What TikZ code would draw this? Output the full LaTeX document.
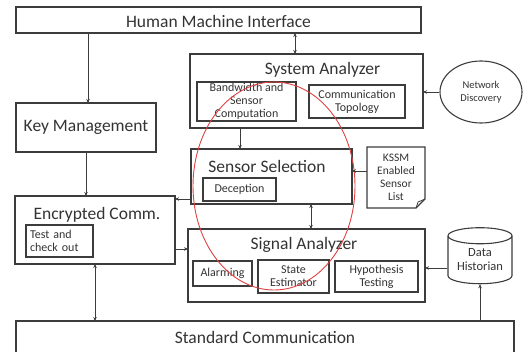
\documentclass[tikz,border=0pt]{standalone}
\usepackage{fontspec}
\setmainfont{Carlito}
\usetikzlibrary{shapes.geometric,arrows.meta,calc}
\definecolor{ln}{HTML}{3C3C3C}
\definecolor{tx}{HTML}{333333}
\definecolor{rd}{HTML}{E04040}
\tikzset{
  box/.style={draw=ln,line width=1.3pt,inner sep=0pt,outer sep=0pt},
  sbox/.style={draw=ln,line width=1.1pt,inner sep=0pt,outer sep=0pt,text=tx,font=\fontsize{12}{13}\selectfont,align=center},
  title/.style={text=tx,font=\fontsize{17.5}{19}\selectfont,inner sep=0pt},
  arr/.style={draw=ln,line width=0.9pt,-{Stealth[length=4pt,width=3.5pt]}},
  darr/.style={draw=ln,line width=0.9pt,{Stealth[length=4pt,width=3.5pt]}-{Stealth[length=4pt,width=3.5pt]}}
}
\begin{document}
\begin{tikzpicture}[x=1pt,y=-1pt]
\useasboundingbox (0,0) rectangle (527,351);
% main boxes
\node[box,minimum width=405pt,minimum height=26pt] (hmi) at (218.5,20) {};
\node[title] (hmit) at (218.5,21) {Human Machine Interface};
\node[box,minimum width=140pt,minimum height=49pt] (key) at (86,127.5) {};
\node[title] (keyt) at (86,127) {Key Management};
\node[box,minimum width=160pt,minimum height=68pt] (enc) at (95,230) {};
\node[title] (enct) at (97,215) {Encrypted Comm.};
\node[sbox,minimum width=67pt,minimum height=32pt,align=left,text width=59pt] (test) at (59.5,241) {Test and\\check out};
\node[box,minimum width=233pt,minimum height=74pt] (sys) at (306.5,91) {};
\node[title] (syst) at (322.5,70) {System Analyzer};
\node[sbox,minimum width=99pt,minimum height=39pt] (bw) at (246.5,101.5) {Bandwidth and\\Sensor\\Computation};
\node[sbox,minimum width=96pt,minimum height=33pt] (ct) at (357,101.5) {Communication\\Topology};
\node[box,minimum width=161pt,minimum height=55pt] (sel) at (271.5,176.5) {};
\node[title] (selt) at (267,166) {Sensor Selection};
\node[sbox,minimum width=73pt,minimum height=23pt] (dec) at (239.5,189.5) {Deception};
\node[inner sep=0pt,outer sep=0pt,minimum width=58pt,minimum height=61pt,text=tx,font=\fontsize{11.5}{13}\selectfont,align=center] (kssm) at (396,177.5) {KSSM\\Enabled\\Sensor\\List};
\draw[ln,line width=1.1pt] (kssm.north west) -- (kssm.north east) -- ([yshift=9pt]kssm.south east) -- ([xshift=-9pt]kssm.south east) -- (kssm.south west) -- cycle;
\draw[ln,line width=0.8pt] ([xshift=-9pt]kssm.south east) -- ([xshift=-7pt,yshift=6pt]kssm.south east) -- ([yshift=9pt]kssm.south east);
\node[box,minimum width=237pt,minimum height=73pt] (sig) at (306.5,265.5) {};
\node[title] (sigt) at (304,245) {Signal Analyzer};
\node[sbox,minimum width=59pt,minimum height=25pt] (alm) at (222.5,273.5) {Alarming};
\node[sbox,minimum width=71pt,minimum height=33pt] (est) at (293.5,276.5) {State\\Estimator};
\node[sbox,minimum width=83pt,minimum height=31pt] (hyp) at (376.5,276.5) {Hypothesis\\Testing};
\node[ellipse,draw=ln,line width=1.1pt,minimum width=82pt,minimum height=62pt,inner sep=0pt,text=tx,font=\fontsize{10.5}{12.5}\selectfont,align=center] (net) at (481,92) {Network\\Discovery};
\node[cylinder,shape border rotate=90,aspect=0.35,draw=ln,line width=1.1pt,minimum width=64pt,minimum height=56pt,inner sep=0pt,text=tx,font=\fontsize{12.5}{14}\selectfont,align=center] (dh) at (480,260) {Data\\Historian};
\node[box,minimum width=498pt,minimum height=40pt,anchor=north west] (std) at (16,321) {};
\node[title] (stdt) at (265,337) {Standard Communication};
% red ellipse
\node[ellipse,draw=rd,line width=0.9pt,minimum width=162pt,minimum height=208pt,inner sep=0pt] (red) at (274,186) {};
% connectors
\draw[arr] (hmi.south -| 88,0) -- (key.north -| 88,0);
\draw[arr] (key.south -| 86,0) -- (enc.north -| 86,0);
\draw[darr] (hmi.south -| 295,0) -- (sys.north -| 295,0);
\draw[arr] (sys.south -| 240,0) -- (sel.north -| 240,0);
\draw[arr] (net.west) -- (sys.east |- net.west);
\draw[arr] (kssm.west |- 0,171) -- (sel.east |- 0,171);
\draw[arr] (sel.west |- 0,199) -- (enc.east |- 0,199);
\draw[darr] (sel.south -| 311,0) -- (sig.north -| 311,0);
\draw[arr] (enc.east |- 0,249) -- (sig.west |- 0,249);
\draw[arr] (dh.west |- 0,268) -- (sig.east |- 0,268);
\draw[darr] (enc.south -| 95,0) -- (std.north -| 95,0);
\draw[arr] (std.north -| 480,0) -- (dh.south);
\end{tikzpicture}
\end{document}
